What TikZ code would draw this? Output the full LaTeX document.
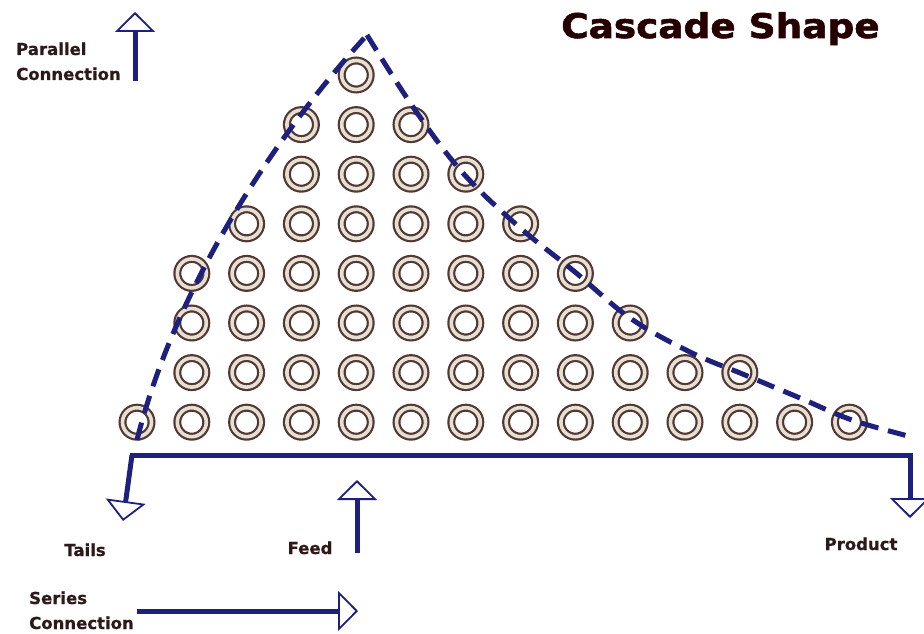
\documentclass[tikz,border=0pt]{standalone}
\usepackage{fontspec}
\setmainfont{DejaVu Sans}
\newfontfamily\heavyfont{DejaVu Sans}[BoldFeatures={FakeBold=1.6}]
\newfontfamily\labelfont{DejaVu Sans}[BoldFeatures={FakeBold=0.6}]
\usetikzlibrary{arrows.meta}

\definecolor{flowblue}{RGB}{30,32,125}
\definecolor{ringbrown}{RGB}{85,55,50}
\definecolor{ringlight}{RGB}{228,224,212}
\definecolor{labelink}{RGB}{45,25,25}

\begin{document}
\begin{tikzpicture}[
  x=1pt, y=-1pt,
  stage/.style={circle, draw=ringbrown, line width=2.2pt, double=ringlight,
    double distance=3.6pt, fill=white, minimum size=29pt, inner sep=0pt},
  envelope/.style={flowblue, line width=5pt, dash pattern=on 18pt off 10pt},
  flowline/.style={flowblue, line width=5pt},
  hollow/.style={-{Triangle[open, length=20pt, width=40pt, line width=1.8pt]}},
  tag/.style={text=labelink, font=\labelfont\fontsize{16.5}{25}\selectfont\bfseries,
    inner sep=0pt, align=left}
]
  \useasboundingbox (0,0) rectangle (924,634);

  % cascade stages, row by row
  \foreach \r/\a/\b in {1/4/4, 2/3/5, 3/3/6, 4/2/7, 5/1/8, 6/1/9, 7/1/11, 8/0/13}
    \foreach \c in {\a,...,\b}
      \node[stage] (s-\r-\c) at ({137+54.8*\c},{75+49.6*(\r-1)}) {};

  % envelope of the cascade
  \coordinate (foot)  at (137,440);
  \coordinate (apex)  at (367,35);
  \draw[envelope] (foot) .. controls (172,300) and (262,150) .. (apex);
  \draw[envelope] plot[smooth, tension=0.6] coordinates
    {(367,35) (413,107) (462,172) (518,226) (575,272) (630,318)
     (690,352) (745,375) (800,398) (852,420) (912,437)};

  % header line with tails and product
  \coordinate (left)    at (132,455);
  \coordinate (right)   at (910,455);
  \coordinate (tails)   at (123,521);
  \coordinate (product) at (910,518);
  \draw[flowline, line cap=rect] (left) -- (right);
  \draw[flowline, hollow] (left) -- (tails);
  \draw[flowline, hollow] (right) -- (product);

  % feed
  \coordinate (feedfoot) at (357,553);
  \coordinate (feedtip)  at (357,480);
  \draw[flowline, hollow] (feedfoot) -- (feedtip);

  % parallel / series directions
  \coordinate (parfoot) at (135,81);
  \coordinate (partip)  at (135,12);
  \draw[flowline, hollow] (parfoot) -- (partip);
  \coordinate (serfoot) at (137,611);
  \coordinate (sertip)  at (358,611);
  \draw[flowline, hollow] (serfoot) -- (sertip);

  % labels
  \node[tag, anchor=base west] (parlabel) at (16,80) {Parallel\\Connection};
  \node[tag, anchor=base west] (serlabel) at (29,629) {Series\\Connection};
  \node[tag, anchor=base] (tailslabel) at (85,556) {Tails};
  \node[tag, anchor=base] (feedlabel) at (310,554) {Feed};
  \node[tag, anchor=base] (productlabel) at (861,550) {Product};
  \node[text=black!85!red, anchor=base west, inner sep=0pt,
    font=\heavyfont\fontsize{34}{40}\selectfont\bfseries] (title) at (561,38)
    {\scalebox{1.1}[1]{Cascade Shape}};
\end{tikzpicture}
\end{document}
